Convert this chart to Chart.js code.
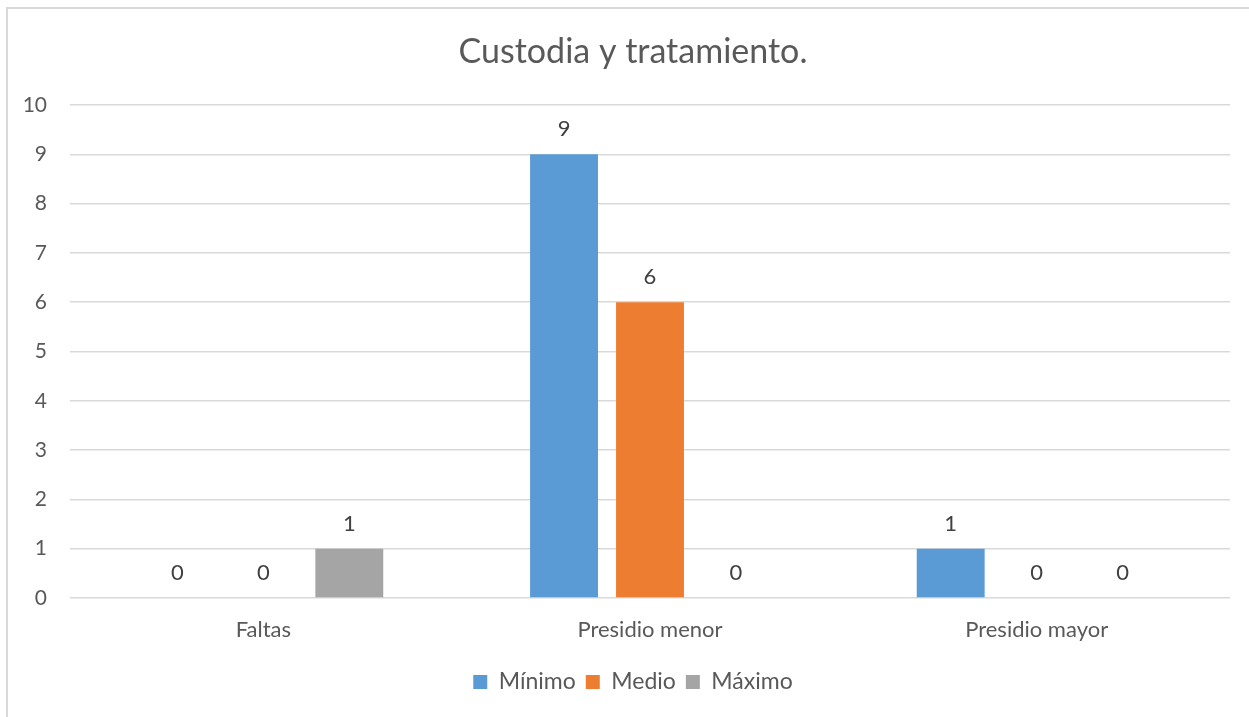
<!DOCTYPE html>
<html>
<head>
<meta charset="utf-8">
<script src="https://cdn.jsdelivr.net/npm/chart.js@4"></script>
<style>
  html, body { margin: 0; padding: 0; background: #ffffff; overflow: hidden; }
  #wrap { position: absolute; left: 0; top: 0; width: 1266px; height: 717px; }
</style>
</head>
<body>
<div id="wrap"><canvas id="c"></canvas></div>
<script>
const categories = ["Faltas", "Presidio menor", "Presidio mayor"];
const minimo = [0, 9, 1];
const medio = [0, 6, 0];
const maximo = [1, 0, 0];
const seriesNames = ["Mínimo", "Medio", "Máximo"];
const yTicks = [0, 1, 2, 3, 4, 5, 6, 7, 8, 9, 10];

const FONT = "Lato, 'Open Sans', sans-serif";
const TEXT = "#595959";

const borderPlugin = {
  id: 'outerBorder',
  beforeDraw(chart) {
    const ctx = chart.ctx;
    ctx.save();
    ctx.fillStyle = '#ffffff';
    ctx.fillRect(0, 0, chart.width, chart.height);
    ctx.strokeStyle = '#d9d9d9';
    ctx.lineWidth = 2;
    ctx.strokeRect(7, 8, 3000, 3000);
    ctx.restore();
  }
};

// y tick labels, positioned through the y scale (drawn here so they are not clipped)
const yLabelPlugin = {
  id: 'yLabels',
  afterDraw(chart) {
    const ctx = chart.ctx;
    const ys = chart.scales.y;
    ctx.save();
    ctx.font = "21px " + FONT;
    ctx.fillStyle = TEXT;
    ctx.textAlign = 'right';
    ctx.textBaseline = 'middle';
    yTicks.forEach(v => {
      ctx.fillText(String(v), ys.right - 23, ys.getPixelForValue(v));
    });
    ctx.restore();
  }
};

const labelPlugin = {
  id: 'valueLabels',
  afterDatasetsDraw(chart) {
    const ctx = chart.ctx;
    ctx.save();
    ctx.font = "22px " + FONT;
    ctx.fillStyle = "#404040";
    ctx.textAlign = 'center';
    ctx.textBaseline = 'middle';
    chart.data.datasets.forEach((ds, i) => {
      const meta = chart.getDatasetMeta(i);
      meta.data.forEach((el, j) => {
        ctx.fillText(String(ds.data[j]), el.x, el.y - 25);
      });
    });
    ctx.restore();
  }
};

new Chart(document.getElementById('c'), {
  type: 'bar',
  data: {
    labels: categories,
    datasets: [
      { label: seriesNames[0], data: minimo, backgroundColor: '#5B9BD5' },
      { label: seriesNames[1], data: medio, backgroundColor: '#ED7D31' },
      { label: seriesNames[2], data: maximo, backgroundColor: '#A5A5A5' }
    ]
  },
  options: {
    responsive: true,
    maintainAspectRatio: false,
    animation: false,
    datasets: { bar: { categoryPercentage: 0.667, barPercentage: 0.79 } },
    layout: { padding: { left: 36, right: 36, top: 0, bottom: 13.5 } },
    plugins: {
      title: {
        display: true,
        text: 'Custodia y tratamiento.',
        color: TEXT,
        font: { family: FONT, size: 34, weight: 'normal', lineHeight: 1.2 },
        padding: { top: 31.6, bottom: 32.6 }
      },
      legend: {
        position: 'bottom',
        labels: {
          color: TEXT,
          font: { family: FONT, size: 23 },
          boxWidth: 14,
          boxHeight: 14,
          padding: 10
        }
      },
      tooltip: { enabled: false }
    },
    scales: {
      x: {
        grid: { display: false, drawTicks: false },
        border: { display: false },
        ticks: { color: TEXT, font: { family: FONT, size: 22 }, padding: 19 },
        afterFit(scale) { scale.height = 62.5; }
      },
      y: {
        min: 0,
        max: 10,
        afterBuildTicks(scale) { scale.ticks = yTicks.map(v => ({ value: v })); },
        grid: { color: '#d9d9d9', lineWidth: 1.5, drawTicks: false },
        border: { display: false },
        ticks: { display: false },
        afterFit(scale) { scale.width = 34; }
      }
    }
  },
  plugins: [borderPlugin, labelPlugin, yLabelPlugin]
});
</script>
</body>
</html>
